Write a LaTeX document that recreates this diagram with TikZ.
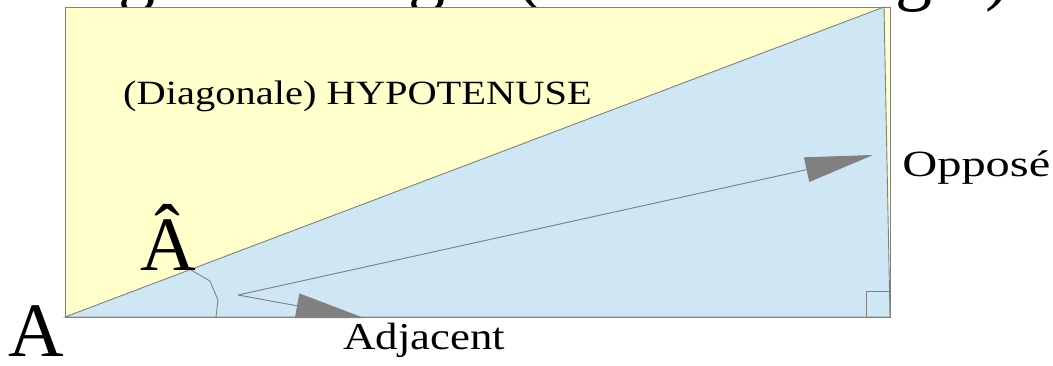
\documentclass[tikz,border=0pt]{standalone}
\usepackage{fontspec}
\setmainfont{Liberation Serif}
\usetikzlibrary{arrows.meta}
\definecolor{yel}{HTML}{FFFFCC}
\definecolor{blu}{HTML}{CFE7F5}
\definecolor{lin}{HTML}{808080}
\tikzset{
  edge/.style={draw=lin, line width=0.9pt},
  bigtip/.style={-{Triangle[length=68pt,width=25pt]}},
  lbl/.style={inner sep=0pt, text=black},
}
\begin{document}
\begin{tikzpicture}[x=1pt,y=-1pt]
\useasboundingbox (0,0) rectangle (1053,365);
\begin{scope}
  \clip (0,0) rectangle (1053,365);
  \node[lbl, anchor=base west, font=\fontsize{74}{74}\selectfont] (title) at (-39,-3.5) {Triangle rectangle (demi-rectangle)};
\end{scope}
% rectangle and triangle
\draw[edge, fill=yel] (65,7) rectangle (890,317);
\draw[edge, fill=blu] (65,317) -- (884,7) -- (890,317) -- cycle;
\draw[edge] (866,291) rectangle (890,317);
\draw[edge] (191,270) -- (210,281) -- (218,300) -- (216,317);
% arrows
\coordinate (O) at (238,295);
\coordinate (tipO) at (873,155);
\coordinate (tipA) at (364,318);
\draw[edge, fill=lin, bigtip] (O) -- (tipO);
\draw[edge, fill=lin, bigtip] (O) -- (tipA);
% labels
\node[lbl, anchor=base, text depth=0pt, font=\fontsize{77}{77}\selectfont] (A) at (36,356) {A};
\node[lbl, anchor=base, font=\fontsize{77}{77}\selectfont] (Ahat) at (168.5,270) {Â};
\node[lbl, anchor=base west, xscale=1.19, font=\fontsize{34}{34}\selectfont] (hyp) at (123,104) {(Diagonale) HYPOTENUSE};
\node[lbl, anchor=base west, xscale=1.31, font=\fontsize{37}{37}\selectfont] (opp) at (902,176) {Opposé};
\node[lbl, anchor=base west, xscale=1.18, font=\fontsize{38}{38}\selectfont] (adj) at (343,349) {Adjacent};
\end{tikzpicture}
\end{document}
